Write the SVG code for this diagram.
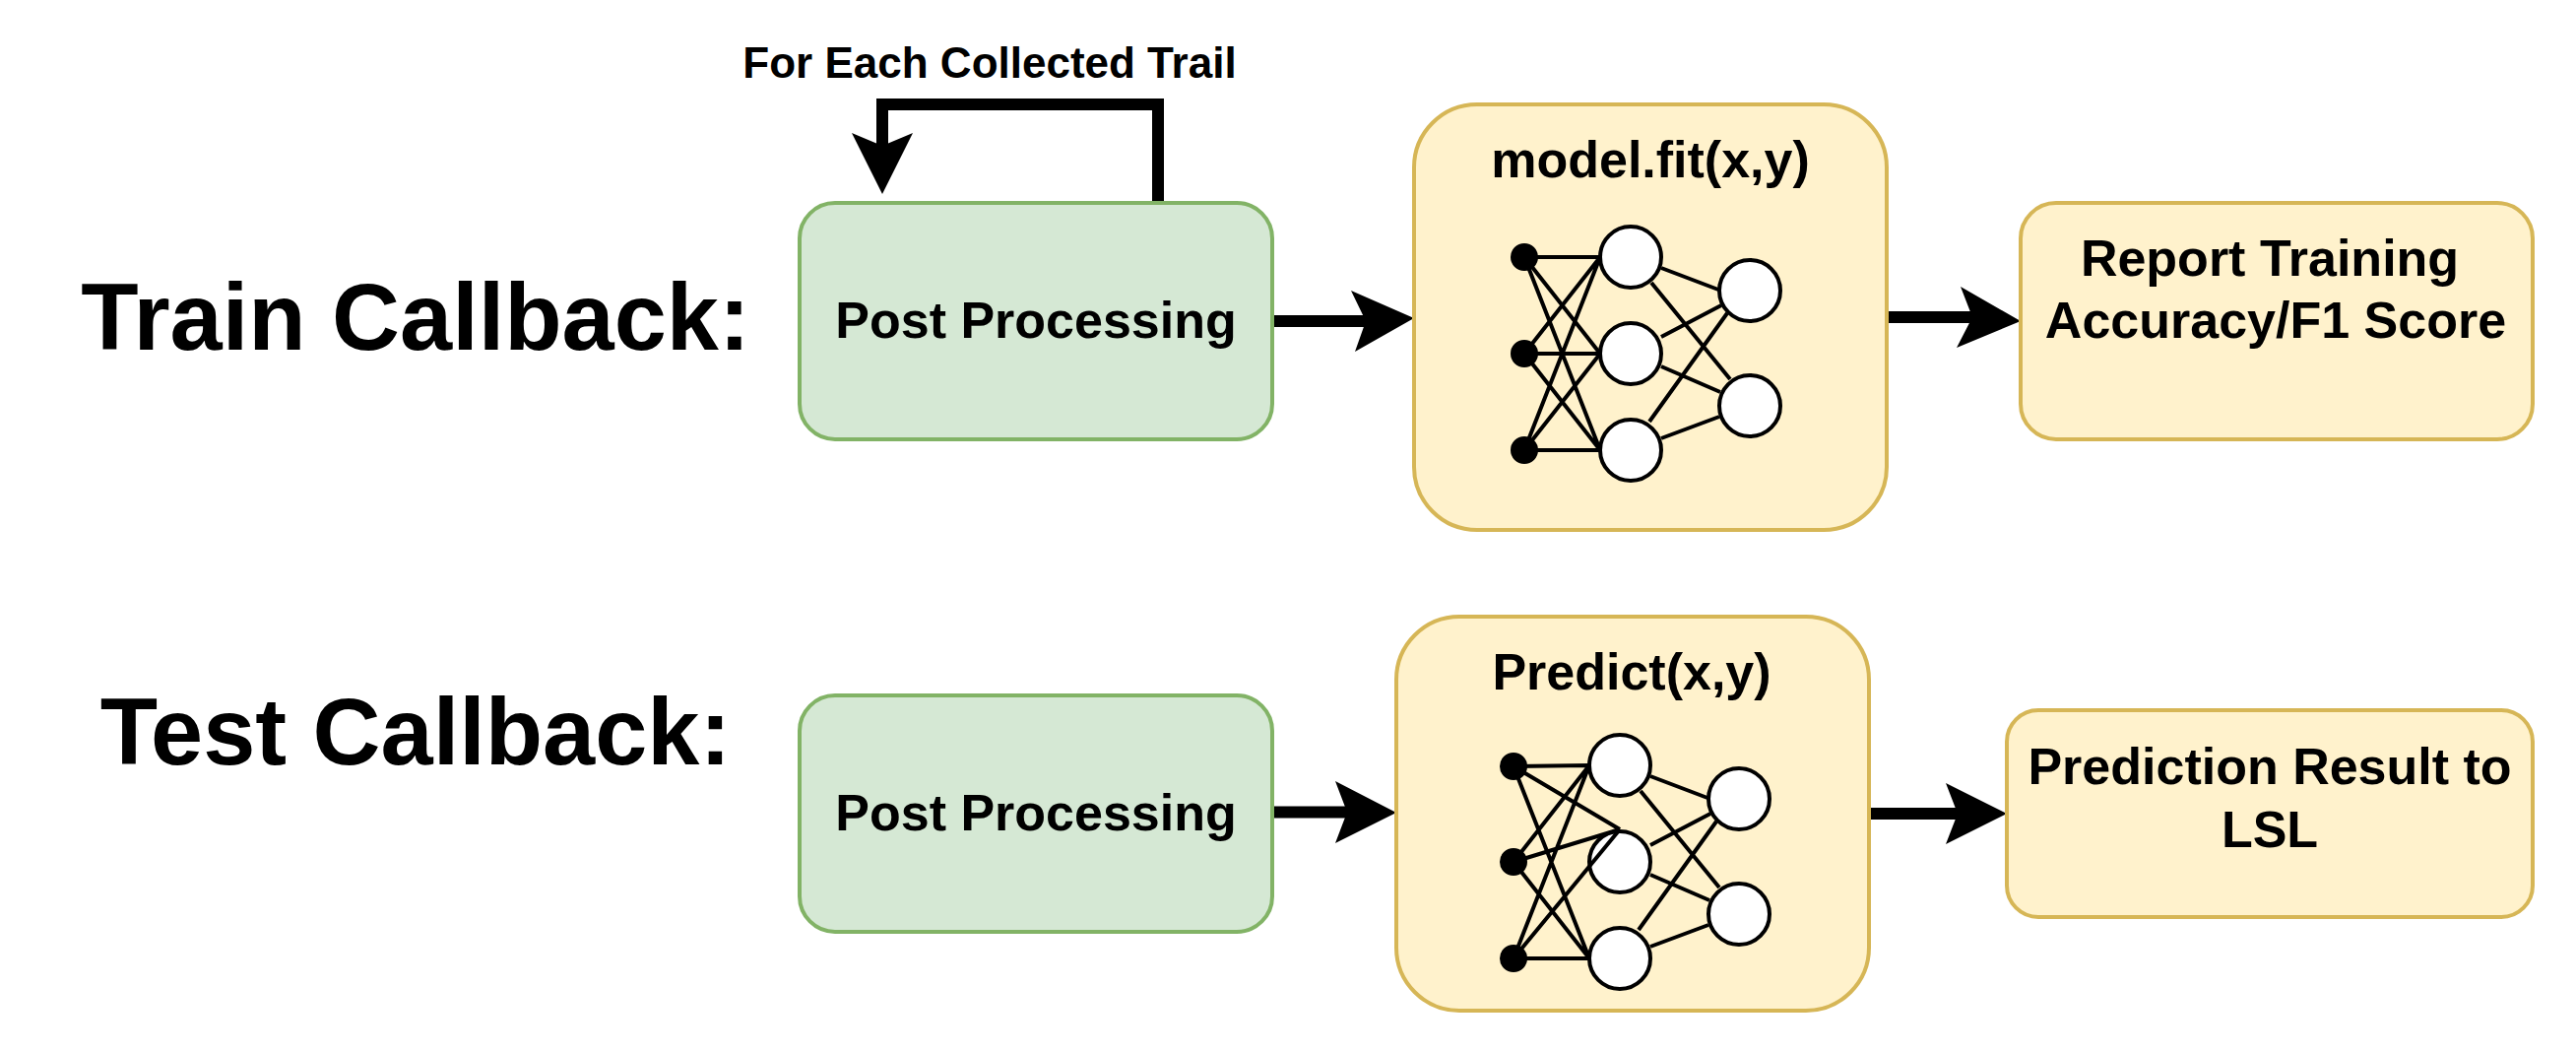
<svg xmlns="http://www.w3.org/2000/svg" width="2616" height="1068" viewBox="0 0 2616 1068">
<style>
text{font-family:"Liberation Sans",Arial,sans-serif;font-weight:bold;fill:#000;text-anchor:middle}
.t{font-size:95.5px}.m{font-size:52px}.s{font-size:44px}
.g{fill:#d5e8d4;stroke:#82b366;stroke-width:4}
.y{fill:#fff2cc;stroke:#d6b656;stroke-width:4}
.e{stroke:#000;stroke-width:4;fill:none}
.i{fill:#000;stroke:#000;stroke-width:4}
.c{fill:#fff;stroke:#000;stroke-width:4}
.a{stroke:#000;stroke-width:12;fill:none}
.h{fill:#000}
</style>
<rect width="2616" height="1068" fill="#fff"/>
<text class="t" x="422" y="355">Train Callback:</text>
<text class="t" x="422" y="776">Test Callback:</text>
<g id="connectors">
<path class="a" d="M1176,206V106H896V150"/><polygon class="h" points="896,197 865,135 896,148 927,135"/>
<path class="a" d="M1292,326H1390"/><polygon class="h" points="1436,323 1372,295 1387,326 1376,357"/>
<path class="a" d="M1916,322H2005"/><polygon class="h" points="2052,326 1991,291 2003,322 1987,353"/>
<path class="a" d="M1293,824.5H1370"/><polygon class="h" points="1418,825 1356,793 1368,824.5 1356,856"/>
<path class="a" d="M1898,826H1990"/><polygon class="h" points="2038,826 1976,795 1988,826 1976,857"/>
</g>
<text class="s" x="1005" y="79">For Each Collected Trail</text>
<g id="train-post"><rect class="g" x="812" y="206" width="480" height="240" rx="36"/><text class="m" x="1052" y="343">Post Processing</text></g>
<g id="test-post"><rect class="g" x="812" y="706" width="480" height="240" rx="36"/><text class="m" x="1052" y="843">Post Processing</text></g>
<g id="model-fit">
<rect class="y" x="1436" y="106" width="480" height="432" rx="64"/>
<text class="m" x="1676" y="180">model.fit(x,y)</text>
<path class="e" d="M1548,261L1625,261M1548,261L1625,359M1548,261L1625,457M1548,359L1625,261M1548,359L1625,359M1548,359L1625,457M1548,457L1625,261M1548,457L1625,359M1548,457L1625,457M1687,272L1745,294M1677,287L1757,385M1687,342L1748,310M1687,372L1747,398M1675,428L1754,318M1687,445L1746,423"/>
<circle class="i" cx="1548" cy="261" r="12"/><circle class="i" cx="1548" cy="359" r="12"/><circle class="i" cx="1548" cy="457" r="12"/>
<circle class="c" cx="1656" cy="261" r="31"/><circle class="c" cx="1656" cy="359" r="31"/><circle class="c" cx="1656" cy="457" r="31"/>
<circle class="c" cx="1777" cy="295" r="31"/><circle class="c" cx="1777" cy="412" r="31"/>
</g>
<g id="predict">
<rect class="y" x="1418" y="626" width="480" height="400" rx="64"/>
<text class="m" x="1657" y="700">Predict(x,y)</text>
<circle class="c" cx="1645" cy="875" r="31"/>
<path class="e" d="M1537,778L1614,777M1537,778L1645,842M1537,778L1614,973M1537,875L1614,777M1537,875L1645,842M1537,875L1614,973M1537,973L1614,777M1537,973L1645,842M1537,973L1614,973M1676,788L1734,810M1666,803L1746,901M1676,858L1737,826M1676,888L1736,914M1664,944L1743,834M1676,961L1735,939"/>
<circle class="i" cx="1537" cy="778" r="12"/><circle class="i" cx="1537" cy="875" r="12"/><circle class="i" cx="1537" cy="973" r="12"/>
<circle class="c" cx="1645" cy="777" r="31"/><circle class="c" cx="1645" cy="973" r="31"/>
<circle class="c" cx="1766" cy="811" r="31"/><circle class="c" cx="1766" cy="928" r="31"/>
</g>
<g id="report"><rect class="y" x="2052" y="206" width="520" height="240" rx="36"/><text class="m" x="2305" y="280">Report Training</text><text class="m" x="2311" y="343">Accuracy/F1 Score</text></g>
<g id="result"><rect class="y" x="2038" y="721" width="534" height="210" rx="32"/><text class="m" x="2305" y="796">Prediction Result to</text><text class="m" x="2305" y="860">LSL</text></g>
</svg>
